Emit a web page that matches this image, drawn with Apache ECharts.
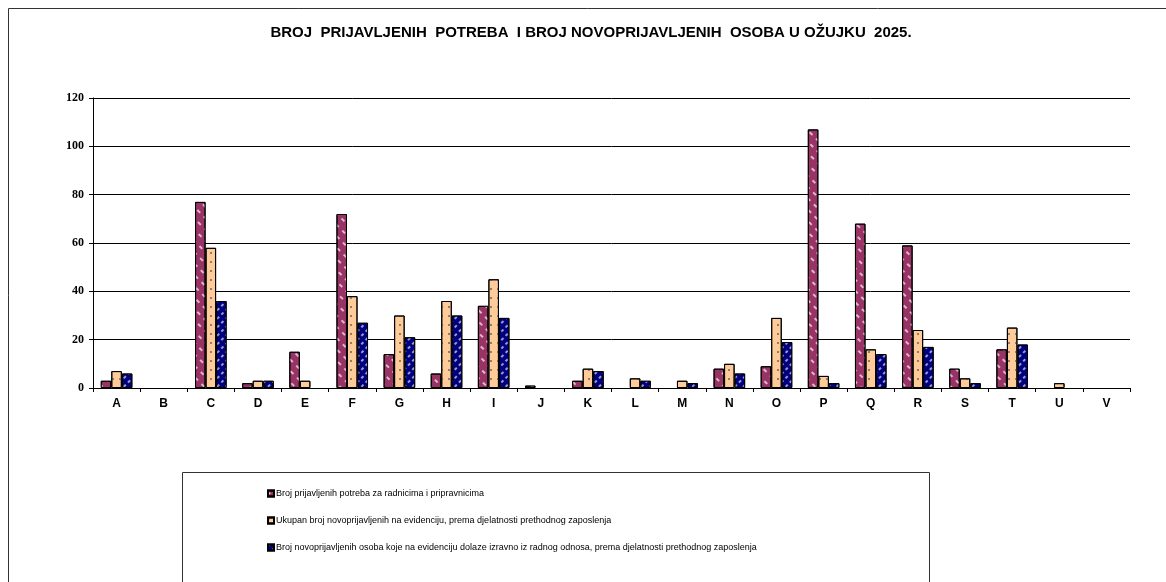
<!DOCTYPE html>
<html>
<head>
<meta charset="utf-8">
<script src="https://cdn.jsdelivr.net/npm/echarts@6/dist/echarts.min.js"></script>
<style>
    html, body { margin: 0; padding: 0; background: #fff; }
    #chart { width: 1166px; height: 582px; }
</style>
</head>
<body>
<div id="chart"></div>
<script>
// kategorije (djelatnosti)
var categories = ['A', 'B', 'C', 'D', 'E', 'F', 'G', 'H', 'I', 'J', 'K', 'L', 'M', 'N', 'O', 'P', 'Q', 'R', 'S', 'T', 'U', 'V'];
// Broj prijavljenih potreba za radnicima i pripravnicima
var potrebe = [3, 0, 77, 2, 15, 72, 14, 6, 34, 1, 3, 0, 0, 8, 9, 107, 68, 59, 8, 16, 0, 0];
// Ukupan broj novoprijavljenih na evidenciju
var novoprijavljeni = [7, 0, 58, 3, 3, 38, 30, 36, 45, 0, 8, 4, 3, 10, 29, 5, 16, 24, 4, 25, 2, 0];
// Broj novoprijavljenih osoba koje dolaze izravno iz radnog odnosa
var izRadnogOdnosa = [6, 0, 36, 3, 0, 27, 21, 30, 29, 0, 7, 3, 2, 6, 19, 2, 14, 17, 2, 18, 0, 0];
var seriesNames = [
    'Broj prijavljenih potreba za radnicima i pripravnicima',
    'Ukupan broj novoprijavljenih na evidenciju, prema djelatnosti prethodnog zaposlenja',
    'Broj novoprijavljenih osoba koje na evidenciju dolaze izravno iz radnog odnosa, prema djelatnosti prethodnog zaposlenja'
];

var chart = echarts.init(document.getElementById('chart'));

// pretvori 0 u prazno da se ne crta stupac
function nz(arr) {
    return arr.map(function (v) { return v === 0 ? '-' : v; });
}

var option = {
    animation: false,
    backgroundColor: '#fff',
    title: {
        text: 'BROJ  PRIJAVLJENIH  POTREBA  I BROJ NOVOPRIJAVLJENIH  OSOBA U OŽUJKU  2025.',
        left: 586,
        textAlign: 'center',
        top: 20,
        textStyle: {
            fontFamily: 'Liberation Sans',
            fontWeight: 'bold',
            fontSize: 15,
            color: '#000'
        }
    },
    graphic: [
        // okvir grafikona
        {
            type: 'rect',
            shape: { x: 8.5, y: 8.5, width: 1170, height: 600 },
            style: { fill: 'none', stroke: '#333', lineWidth: 1 },
            silent: true
        },
        // okvir legende
        {
            type: 'rect',
            shape: { x: 182.5, y: 472.5, width: 747, height: 130 },
            style: { fill: '#fff', stroke: '#333', lineWidth: 1 },
            silent: true,
            z: -1
        }
    ],
    legend: {
        orient: 'vertical',
        left: 262,
        top: 484,
        itemWidth: 6,
        itemHeight: 6,
        itemGap: 18,
        icon: 'rect',
        data: seriesNames,
        textStyle: {
            fontFamily: 'Liberation Sans',
            fontSize: 9,
            color: '#000',
            padding: [0, 0, 0, -3]
        },
        z: 5
    },
    grid: {
        left: 93,
        right: 36,
        top: 98,
        bottom: 194
    },
    xAxis: {
        type: 'category',
        data: categories,
        axisLine: { lineStyle: { color: '#000', width: 1 } },
        axisTick: { show: true, length: 4, lineStyle: { color: '#000' } },
        axisLabel: {
            fontFamily: 'Liberation Sans',
            fontWeight: 'bold',
            fontSize: 12,
            color: '#000',
            margin: 10
        }
    },
    yAxis: {
        type: 'value',
        min: 0,
        max: 120,
        interval: 20,
        axisLine: { show: true, lineStyle: { color: '#000', width: 1 } },
        axisTick: { show: true, length: 4, lineStyle: { color: '#000' } },
        splitLine: { lineStyle: { color: '#000', width: 1 } },
        axisLabel: {
            fontFamily: 'Liberation Serif',
            fontWeight: 'bold',
            fontSize: 12,
            color: '#000',
            margin: 9
        }
    },
    series: [
        {
            name: seriesNames[0],
            type: 'bar',
            data: nz(potrebe),
            barGap: '0%',
            barCategoryGap: '33%',
            itemStyle: {
                color: '#993366',
                borderColor: '#000',
                borderWidth: 1,
                decal: {
                    symbol: 'rect',
                    symbolSize: 1,
                    color: 'rgba(255,255,255,0.65)',
                    dashArrayX: [[4, 5]],
                    dashArrayY: [1.5, 6],
                    rotation: Math.PI / 4
                }
            }
        },
        {
            name: seriesNames[1],
            type: 'bar',
            data: nz(novoprijavljeni),
            itemStyle: {
                color: '#FFCC99',
                borderColor: '#000',
                borderWidth: 1,
                decal: {
                    symbol: 'circle',
                    symbolSize: 1,
                    color: '#666',
                    dashArrayX: [[1.5, 5]],
                    dashArrayY: [1.5, 7]
                }
            }
        },
        {
            name: seriesNames[2],
            type: 'bar',
            data: nz(izRadnogOdnosa),
            itemStyle: {
                color: '#000080',
                borderColor: '#000',
                borderWidth: 1,
                decal: {
                    symbol: 'rect',
                    symbolSize: 1,
                    color: 'rgba(255,255,255,0.6)',
                    dashArrayX: [[3, 3]],
                    dashArrayY: [1.5, 4],
                    rotation: -Math.PI / 4
                }
            }
        }
    ]
};

chart.setOption(option);
</script>
</body>
</html>
